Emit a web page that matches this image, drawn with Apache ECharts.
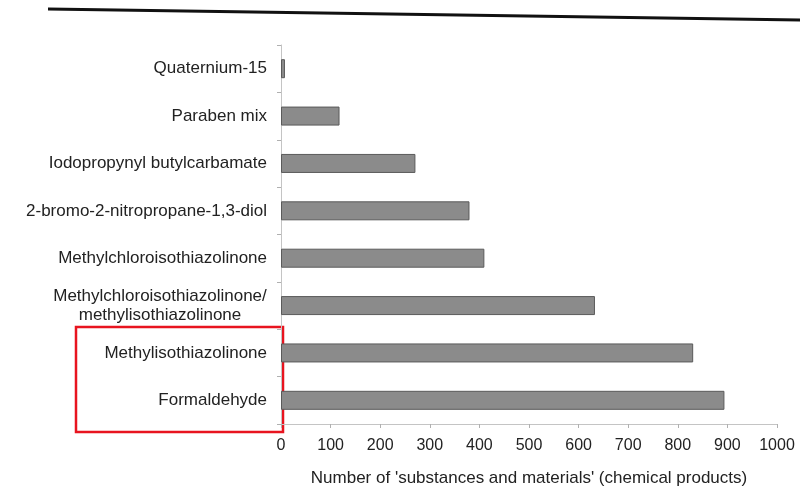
<!DOCTYPE html>
<html>
<head>
<meta charset="utf-8">
<script src="https://cdn.jsdelivr.net/npm/echarts@6/dist/echarts.min.js"></script>
<style>
  html, body { margin: 0; padding: 0; background: #fff; }
  #chart { width: 812px; height: 492px; }
</style>
</head>
<body>
<div id="chart"></div>
<script>
var categories = [
  'Quaternium-15',
  'Paraben mix',
  'Iodopropynyl butylcarbamate',
  '2-bromo-2-nitropropane-1,3-diol',
  'Methylchloroisothiazolinone',
  'Methylchloroisothiazolinone/\nmethylisothiazolinone',
  'Methylisothiazolinone',
  'Formaldehyde'
];
var productCounts = [8, 118, 271, 380, 410, 633, 831, 894];
var xTicks = [0, 100, 200, 300, 400, 500, 600, 700, 800, 900, 1000];

var font = 'Liberation Sans, Arial, sans-serif';
var myChart = echarts.init(document.getElementById('chart'));
var option = {
  backgroundColor: '#ffffff',
  animation: false,
  grid: { left: 281, right: 35, top: 45, bottom: 63 },
  xAxis: {
    type: 'value',
    min: xTicks[0],
    max: xTicks[xTicks.length - 1],
    interval: 100,
    name: "Number of 'substances and materials' (chemical products)",
    nameLocation: 'middle',
    nameGap: 46,
    nameTextStyle: { color: '#222', fontSize: 17, fontFamily: font },
    axisLine: { show: true, lineStyle: { color: '#c4c4c4' } },
    axisTick: { show: true, length: 4, lineStyle: { color: '#b0b0b0' } },
    axisLabel: {
      color: '#222', fontSize: 16, fontFamily: font, margin: 14,
      formatter: function (v) { return String(v); }
    },
    splitLine: { show: false }
  },
  yAxis: {
    type: 'category',
    inverse: true,
    data: categories,
    axisLine: { show: true, lineStyle: { color: '#c4c4c4' } },
    axisTick: { show: true, length: 4, lineStyle: { color: '#b0b0b0' } },
    axisLabel: {
      color: '#222',
      fontSize: 17,
      fontFamily: font,
      margin: 14,
      formatter: function (v) {
        if (v.indexOf('\n') < 0) return v;
        return v.split('\n').map(function (s) { return '{c|' + s + '}'; }).join('\n');
      },
      rich: {
        c: { width: 214, align: 'center', color: '#222', fontSize: 17, fontFamily: font, lineHeight: 19 }
      }
    }
  },
  series: [{
    type: 'bar',
    data: productCounts,
    barWidth: 19,
    itemStyle: { color: '#8b8b8b', borderColor: '#5a5a5a', borderWidth: 1 }
  }],
  graphic: [
    {
      type: 'line',
      shape: { x1: 48, y1: 9, x2: 800, y2: 20 },
      style: { stroke: '#111', lineWidth: 3 }
    },
    {
      type: 'rect',
      shape: { x: 76, y: 327, width: 207, height: 105 },
      style: { fill: 'none', stroke: '#e8141f', lineWidth: 2.5 }
    }
  ]
};
myChart.setOption(option);
</script>
</body>
</html>
